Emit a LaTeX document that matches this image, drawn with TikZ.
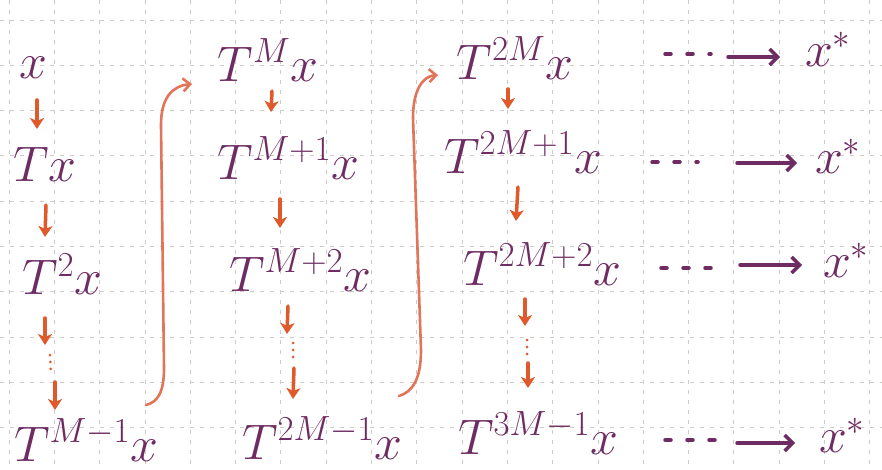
\RequirePackage{fix-cm}
\documentclass[tikz,border=0pt]{standalone}
\usetikzlibrary{arrows.meta}
\definecolor{ink}{HTML}{6E2C63}
\definecolor{arr}{HTML}{E0592B}
\definecolor{curv}{HTML}{E27558}
\definecolor{gridc}{HTML}{CFCBC7}
\begin{document}
\begin{tikzpicture}[x=1pt,y=-1pt,
  lbl/.style={text=ink,inner sep=0pt,font=\fontsize{50}{55}\selectfont},
  darr/.style={draw=arr,line width=3.5pt,line cap=round,-{Stealth[length=11pt,width=14pt,inset=3pt]}},
  vdots/.style={draw=arr,line width=3pt,line cap=round,dash pattern=on 0pt off 7pt},
  carr/.style={draw=curv,line width=2.6pt,line cap=round,-{Straight Barb[length=7pt,width=13pt]}},
  hdots/.style={draw=ink,line width=3.5pt,line cap=round,dash pattern=on 6pt off 16pt},
  harr/.style={draw=ink,line width=3.5pt,line cap=round,-{Straight Barb[length=8pt,width=16pt]}},
  gridl/.style={draw=gridc,line width=0.8pt,dash pattern=on 4pt off 6pt}]
\fill[white] (0,0) rectangle (882,470);
\useasboundingbox (0,0) rectangle (882,470);
\foreach \k in {0,...,19} \draw[gridl] ({9+45.3*\k},0) -- ({9+45.3*\k},470);
\foreach \k in {0,...,10} \draw[gridl] (0,{20+45.3*\k}) -- (882,{20+45.3*\k});
% column 1
\node[lbl] (a0) at (33,68) {$x$};
\node[lbl] (a1) at (45,164) {$Tx$};
\node[lbl] (a2) at (62,274) {$T^2x$};
\node[lbl] (a3) at (86,440) {$T^{M-1}x$};
% column 2
\node[lbl] (b0) at (268,60) {$T^{M}x$};
\node[lbl] (b1) at (288,158) {$T^{M+1}x$};
\node[lbl] (b2) at (300,270) {$T^{M+2}x$};
\node[lbl] (b3) at (322,438) {$T^{2M-1}x$};
% column 3
\node[lbl] (c0) at (515,58) {$T^{2M}x$};
\node[lbl] (c1) at (523,152) {$T^{2M+1}x$};
\node[lbl] (c2) at (542,264) {$T^{2M+2}x$};
\node[lbl] (c3) at (538,433) {$T^{3M-1}x$};
% limits
\node[lbl] (s0) at (828,49) {$x^{*}$};
\node[lbl] (s1) at (838,156) {$x^{*}$};
\node[lbl] (s2) at (846,260) {$x^{*}$};
\node[lbl] (s3) at (842,435) {$x^{*}$};
% down arrows column 1
\coordinate (p1) at (37,100); \coordinate (q1) at (37,129);
\coordinate (p2) at (46,205); \coordinate (q2) at (45,237);
\coordinate (p3) at (45,318); \coordinate (q3) at (45,345);
\coordinate (d3a) at (50,355); \coordinate (d3b) at (51,374);
\coordinate (p4) at (55,382); \coordinate (q4) at (55,410);
\draw[darr] (p1) -- (q1);
\draw[darr] (p2) -- (q2);
\draw[darr] (p3) -- (q3);
\draw[vdots] (d3a) -- (d3b);
\draw[darr] (p4) -- (q4);
% down arrows column 2
\coordinate (p5) at (272,91); \coordinate (q5) at (271,112);
\coordinate (p6) at (280,199); \coordinate (q6) at (280,228);
\coordinate (p7) at (288,306); \coordinate (q7) at (287,334);
\coordinate (d7a) at (293,343); \coordinate (d7b) at (293,362);
\coordinate (p8) at (294,368); \coordinate (q8) at (293,399);
\draw[darr] (p5) -- (q5);
\draw[darr] (p6) -- (q6);
\draw[darr] (p7) -- (q7);
\draw[vdots] (d7a) -- (d7b);
\draw[darr] (p8) -- (q8);
% down arrows column 3
\coordinate (p9) at (508,89); \coordinate (q9) at (508,109);
\coordinate (p10) at (518,187); \coordinate (q10) at (516,221);
\coordinate (p11) at (525,299); \coordinate (q11) at (525,326);
\coordinate (d11a) at (527,340); \coordinate (d11b) at (527,357);
\coordinate (p12) at (528,363); \coordinate (q12) at (528,388);
\draw[darr] (p9) -- (q9);
\draw[darr] (p10) -- (q10);
\draw[darr] (p11) -- (q11);
\draw[vdots] (d11a) -- (d11b);
\draw[darr] (p12) -- (q12);
% curved wrap-around arrows
\coordinate (u1) at (146,405); \coordinate (v1) at (192,84);
\draw[carr] (u1) .. controls (158,402) and (164,392) .. (164,368) -- (161,125) .. controls (161,98) and (172,86) .. (v1);
\coordinate (u2) at (399,396); \coordinate (v2) at (438,75);
\draw[carr] (u2) .. controls (412,392) and (421,380) .. (421,350) -- (413,118) .. controls (413,88) and (424,76) .. (v2);
% horizontal convergence arrows
\coordinate (e0a) at (665,54); \coordinate (e0b) at (711,54);
\coordinate (f0) at (728,57); \coordinate (g0) at (780,57);
\coordinate (e1a) at (652,162); \coordinate (e1b) at (698,162);
\coordinate (f1) at (737,163); \coordinate (g1) at (797,163);
\coordinate (e2a) at (661,268); \coordinate (e2b) at (712,268);
\coordinate (f2) at (740,265); \coordinate (g2) at (802,265);
\coordinate (e3a) at (665,440); \coordinate (e3b) at (716,440);
\coordinate (f3) at (737,443); \coordinate (g3) at (795,443);
\draw[hdots] (e0a) -- (e0b); \draw[harr] (f0) -- (g0);
\draw[hdots] (e1a) -- (e1b); \draw[harr] (f1) -- (g1);
\draw[hdots] (e2a) -- (e2b); \draw[harr] (f2) -- (g2);
\draw[hdots] (e3a) -- (e3b); \draw[harr] (f3) -- (g3);
\end{tikzpicture}
\end{document}
